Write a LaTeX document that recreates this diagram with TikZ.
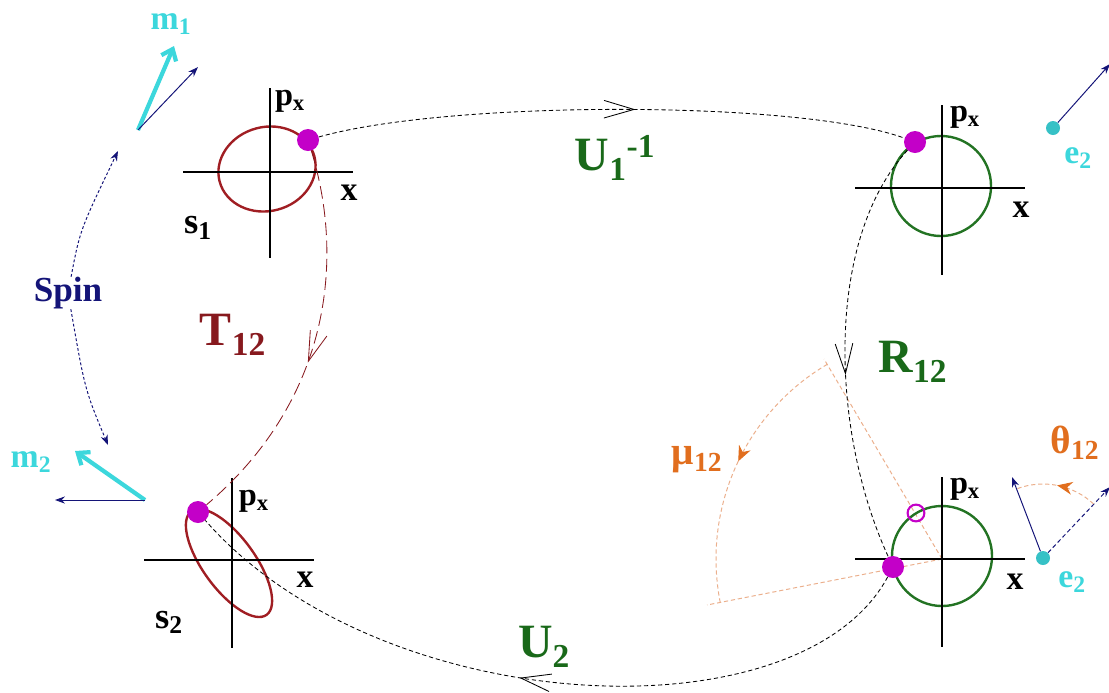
\documentclass[tikz,border=0pt]{standalone}
\usepackage{fontspec}
\setmainfont{Liberation Serif}
\usetikzlibrary{arrows.meta,shapes.geometric,decorations.markings}

\definecolor{orbitred}{RGB}{160,30,35}
\definecolor{orbitgreen}{RGB}{35,115,35}
\definecolor{labgreen}{RGB}{25,105,25}
\definecolor{labred}{RGB}{135,25,30}
\definecolor{ptmag}{RGB}{195,0,200}
\definecolor{spincyan}{RGB}{60,215,220}
\definecolor{spinnavy}{RGB}{20,20,120}
\definecolor{angorange}{RGB}{225,110,30}
\definecolor{angpeach}{RGB}{235,175,140}

\begin{document}
\begin{tikzpicture}[
    x=0.025cm, y=-0.025cm,
    lab/.style      = {inner sep=0pt, font=\bfseries\fontsize{#1}{#1}\selectfont},
    axis/.style     = {line width=2pt, draw=black},
    orbitA/.style   = {ellipse, draw=orbitred, line width=1.7pt, inner sep=0pt},
    orbitB/.style   = {circle, draw=orbitgreen, line width=1.7pt, inner sep=0pt,
                       minimum size=2.5cm},
    pdot/.style     = {circle, fill=ptmag, inner sep=0pt, minimum size=0.55cm},
    pring/.style    = {circle, draw=ptmag, line width=1.5pt, inner sep=0pt,
                       minimum size=0.42cm},
    edot/.style     = {circle, fill=spincyan!90!black, inner sep=0pt,
                       minimum size=0.35cm},
    flow/.style     = {draw=black, line width=0.6pt, dash pattern=on 3pt off 2pt},
    tflow/.style    = {draw=labred, line width=0.6pt, dash pattern=on 9pt off 4pt},
    midarrow/.style = {postaction=decorate, decoration={markings,
                       mark=at position #1 with
                       {\arrow{Straight Barb[length=7.5mm,width=4.4mm]}}}},
    spinflow/.style = {draw=spinnavy, line width=0.7pt, dash pattern=on 2pt off 1.5pt,
                       -{Stealth[length=2.5mm,width=1.8mm]}},
    thinvec/.style  = {draw=spinnavy, line width=0.7pt,
                       -{Stealth[length=2.5mm,width=1.8mm]}},
    bigvec/.style   = {draw=spincyan, line width=3pt,
                       -{Straight Barb[length=2.5mm,width=4mm]}},
    angline/.style  = {draw=angpeach, line width=0.7pt, dash pattern=on 3pt off 2pt},
    angarrow/.style = {postaction=decorate, decoration={markings,
                       mark=at position #1 with
                       {\arrow[angorange]{Stealth[length=3.8mm,width=3.2mm]}}}},
  ]

  \useasboundingbox (0,0) rectangle (1109,692);

  % axes origins
  \coordinate (a1) at (270,172);
  \coordinate (a2) at (942,188);
  \coordinate (a3) at (232,560);
  \coordinate (a4) at (942,559);

  % rotation angle mu_12
  \coordinate (mu1) at (824,359);
  \coordinate (mu2) at (707,605);
  \draw[angline] (a4) -- (mu1);
  \draw[angline] (a4) -- (mu2);
  \draw[angline, angarrow=0.48] (a4) ++(-120.5:226) arc[start angle=-120.5, end angle=-191.1, radius=226];

  % orbits
  \node[orbitA, minimum width=2.45cm, minimum height=2.1cm, rotate=15] (o1) at (267,169) {};
  \node[orbitB] (o2) at (941,186) {};
  \node[orbitA, minimum width=3.2cm, minimum height=1.3cm, rotate=-54] (o3) at (229,563) {};
  \node[orbitB] (o4) at (942,556) {};

  \draw[axis] (a1) ++(-87,0) -- ++(170,0);
  \draw[axis] (a1) ++(0,-84) -- ++(0,170);
  \draw[axis] (a2) ++(-87,0) -- ++(170,0);
  \draw[axis] (a2) ++(0,-83) -- ++(0,170);
  \draw[axis] (a3) ++(-88,0) -- ++(170,0);
  \draw[axis] (a3) ++(0,-82) -- ++(0,170);
  \draw[axis] (a4) ++(-87,0) -- ++(170,0);
  \draw[axis] (a4) ++(0,-82) -- ++(0,170);

  % phase points
  \node[pdot] (d1) at (308,140) {};
  \node[pdot] (d2) at (915,142) {};
  \node[pdot] (d3) at (198,512) {};
  \node[pdot] (d4) at (893,567) {};
  \node[pring] (d4r) at (916,513) {};

  % axis labels
  \node[lab=23] (p1) at (290,101) {p\textsubscript{x}};
  \node[lab=24] (x1) at (349,193) {x};
  \node[lab=26] (s1) at (198,228) {s\textsubscript{1}};
  \node[lab=23] (p2) at (965,117) {p\textsubscript{x}};
  \node[lab=24] (x2) at (1021,210) {x};
  \node[lab=23] (p3) at (254,501) {p\textsubscript{x}};
  \node[lab=24] (x3) at (305,580) {x};
  \node[lab=26] (s2) at (169,622) {s\textsubscript{2}};
  \node[lab=23] (p4) at (965,489) {p\textsubscript{x}};
  \node[lab=24] (x4) at (1015,582) {x};

  % transformations
  \draw[flow, midarrow=0.54] (d1) .. controls (450,100) and (800,100) .. (d2);
  \draw[tflow, midarrow=0.55] (d1) .. controls (345,260) and (330,400) .. (d3);
  \draw[flow, midarrow=0.56] (d2) .. controls (825,240) and (830,430) .. (d4);
  \draw[flow, midarrow=0.53] (d4) .. controls (800,740) and (380,720) .. (d3);

  \node[lab=34, text=labgreen] (u1) at (615,158) {U\textsubscript{1}\textsuperscript{-1}};
  \node[lab=34, text=labred] (t12) at (233,335) {T\textsubscript{12}};
  \node[lab=34, text=labgreen] (r12) at (913,362) {R\textsubscript{12}};
  \node[lab=34, text=labgreen] (u2) at (544,647) {U\textsubscript{2}};
  \node[lab=28, text=angorange] (mu) at (697,460) {μ\textsubscript{12}};

  % spins
  \node[lab=25, text=spinnavy] (spin) at (68,293) {Spin};
  \coordinate (sp1) at (118,151);
  \coordinate (sp2) at (108,445);
  \draw[spinflow] (spin) .. controls (80,230) .. (sp1);
  \draw[spinflow] (spin) .. controls (85,390) .. (sp2);

  \coordinate (m1base) at (138,130);
  \coordinate (m1tip) at (174,46);
  \coordinate (m1dir) at (198,67);
  \draw[bigvec] (m1base) -- (m1tip);
  \draw[thinvec] (m1base) -- (m1dir);
  \node[lab=24, text=spincyan] (m1) at (171,24) {m\textsubscript{1}};

  \coordinate (m2base) at (145,500);
  \coordinate (m2tip) at (75,451);
  \coordinate (m2dir) at (55,500);
  \draw[bigvec] (m2base) -- (m2tip);
  \draw[thinvec] (m2base) -- (m2dir);
  \node[lab=24, text=spincyan] (m2) at (31,462) {m\textsubscript{2}};

  % electron directions
  \node[edot] (e1) at (1053,128) {};
  \coordinate (e1dir) at (1110,64);
  \draw[thinvec] (e1) -- (e1dir);
  \node[lab=24, text=spincyan] (e1l) at (1078,158) {e\textsubscript{2}};

  \node[edot] (e2) at (1043,558) {};
  \coordinate (e2up) at (1012,477);
  \coordinate (e2ax) at (1110,487);
  \draw[thinvec] (e2) -- (e2up);
  \draw[thinvec, dash pattern=on 3pt off 2pt] (e2) -- (e2ax);
  \draw[angline, angarrow=0.5] (e2) ++(-47:74) arc[start angle=-47, end angle=-111, radius=74];
  \node[lab=24, text=spincyan] (e2l) at (1072,582) {e\textsubscript{2}};
  \node[lab=28, text=angorange] (th) at (1075,443) {θ\textsubscript{12}};

\end{tikzpicture}
\end{document}
